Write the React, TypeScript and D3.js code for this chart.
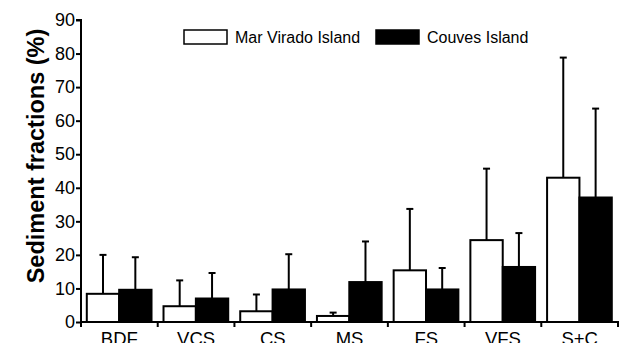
import React, { useRef, useEffect } from 'react'
import * as d3 from 'd3'

const categories = ['BDF', 'VCS', 'CS', 'MS', 'FS', 'VFS', 'S+C']
const seriesNames = ['Mar Virado Island', 'Couves Island']
const marVirado = [8.4, 4.7, 3.2, 1.8, 15.4, 24.4, 43.0]
const marViradoErr = [20.0, 12.4, 8.2, 2.8, 33.7, 45.7, 78.8]
const couves = [9.6, 7.0, 9.7, 11.9, 9.7, 16.4, 37.1]
const couvesErr = [19.3, 14.6, 20.2, 24.0, 16.1, 26.5, 63.6]
const yTicks = [0, 10, 20, 30, 40, 50, 60, 70, 80, 90]

const fills = ['#ffffff', '#000000']
const font = 'Liberation Sans, Arial, Helvetica, sans-serif'

export default function App() {
  const ref = useRef<SVGSVGElement>(null)

  useEffect(() => {
    const svg = d3.select(ref.current)
    svg.selectAll('*').remove()

    const left = 81
    const right = 618
    const top = 20
    const bottom = 322

    const x0 = d3.scaleBand().domain(categories).range([left, right]).padding(0)
    const x1 = d3.scaleBand().domain(seriesNames)
      .range([5.8, x0.bandwidth() - 6.2]).padding(0)
    const y = d3.scaleLinear().domain([0, 90]).range([bottom, top])

    const values = [marVirado, couves]
    const errs = [marViradoErr, couvesErr]

    const data = categories.flatMap((c, i) => seriesNames.map((s, j) => ({
      cat: c, series: s, j, value: values[j][i], err: errs[j][i]
    })))

    const cx = (d: any) => x0(d.cat)! + x1(d.series)! + x1.bandwidth() / 2
    const g = svg.append('g')

    // error bars, upper only
    const eb = g.selectAll('g.err').data(data).join('g')
    eb.append('line')
      .attr('x1', cx).attr('x2', cx)
      .attr('y1', d => y(d.value))
      .attr('y2', d => y(d.err))
      .attr('stroke', '#000').attr('stroke-width', 2)
    eb.append('line')
      .attr('x1', d => cx(d) - 3.5)
      .attr('x2', d => cx(d) + 3.5)
      .attr('y1', d => y(d.err))
      .attr('y2', d => y(d.err))
      .attr('stroke', '#000').attr('stroke-width', 2)

    // bars
    g.selectAll('rect.bar').data(data).join('rect')
      .attr('x', d => x0(d.cat)! + x1(d.series)!)
      .attr('y', d => y(d.value))
      .attr('width', x1.bandwidth())
      .attr('height', d => y(0) - y(d.value))
      .attr('fill', d => fills[d.j])
      .attr('stroke', '#000')
      .attr('stroke-width', 2)

    // y axis
    const yAxis = svg.append('g')
      .attr('transform', `translate(${left},0)`)
      .call(d3.axisLeft(y).tickValues(yTicks).tickSize(5).tickPadding(1))
    yAxis.select('.domain').attr('stroke-width', 2).attr('d', `M-5,${top}H0V${bottom + 1}`)
    yAxis.selectAll('.tick line').attr('stroke-width', 2)
    yAxis.selectAll('.tick text')
      .attr('font-family', font)
      .attr('font-size', 18).attr('fill', '#000')

    // x axis
    const xAxis = svg.append('g').attr('transform', `translate(0,${bottom})`)
    xAxis.append('line')
      .attr('x1', left - 1).attr('x2', right + 1)
      .attr('stroke', '#000').attr('stroke-width', 2)
    xAxis.selectAll('line.tk').data([...categories.map(c => x0(c)!), right]).join('line')
      .attr('x1', d => d).attr('x2', d => d).attr('y1', 0).attr('y2', 5)
      .attr('stroke', '#000').attr('stroke-width', 2)
    xAxis.selectAll('text').data(categories).join('text')
      .attr('x', d => x0(d)! + x0.bandwidth() / 2)
      .attr('y', 23)
      .attr('text-anchor', 'middle')
      .attr('font-family', font)
      .attr('font-size', 18.5)
      .text(d => d)

    // y title
    svg.append('text')
      .attr('transform', `translate(43.5,156) rotate(-90)`)
      .attr('text-anchor', 'middle')
      .attr('font-family', font)
      .attr('font-weight', 'bold')
      .attr('font-size', 23.5)
      .text('Sediment fractions (%)')

    // legend
    const legend = svg.append('g')
    const legX = [184, 376]
    seriesNames.forEach((s, j) => {
      legend.append('rect')
        .attr('x', legX[j]).attr('y', 30).attr('width', 43).attr('height', 14)
        .attr('fill', fills[j]).attr('stroke', '#000').attr('stroke-width', 1.5)
      legend.append('text')
        .attr('x', legX[j] + 51).attr('y', 43.3)
        .attr('font-family', font)
        .attr('font-size', 16)
        .text(s)
    })
  }, [])

  return (
    <svg ref={ref} width={627} height={343}
      style={{ position: 'absolute', left: 0, top: 0, background: '#fff' }} />
  )
}
